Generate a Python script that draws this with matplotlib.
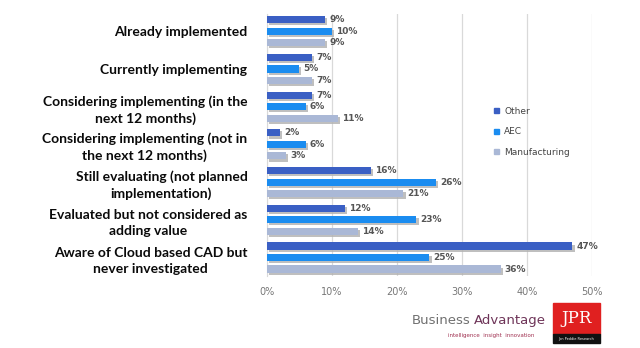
import matplotlib
matplotlib.use("Agg")
import matplotlib.pyplot as plt
import matplotlib.patheffects as pe
import numpy as np

categories = [
    "Already implemented",
    "Currently implementing",
    "Considering implementing (in the\nnext 12 months)",
    "Considering implementing (not in\nthe next 12 months)",
    "Still evaluating (not planned\nimplementation)",
    "Evaluated but not considered as\nadding value",
    "Aware of Cloud based CAD but\nnever investigated",
]
series_names = ["Other", "AEC", "Manufacturing"]
other = [9, 7, 7, 2, 16, 12, 47]
aec = [10, 5, 6, 6, 26, 23, 25]
manufacturing = [9, 7, 11, 3, 21, 14, 36]
xticks = [0, 10, 20, 30, 40, 50]

colors = ["#3a5fc4", "#1a8cf0", "#aab8d6"]

fig = plt.figure(figsize=(6.4, 3.48), dpi=100)
ax = fig.add_axes([0.417, 0.208, 0.508, 0.752])

y = np.arange(len(categories))
offsets = [-0.305, 0.0, 0.305]
shadow = [pe.SimplePatchShadow(offset=(1.5, -1.5), shadow_rgbFace="#b0b0b0", alpha=0.8), pe.Normal()]
for vals, off, col, name in zip([other, aec, manufacturing], offsets, colors, series_names):
    bars = ax.barh(y + off, vals, height=0.19, color=col, label=name, zorder=3)
    for b in bars:
        b.set_path_effects(shadow)
    for yi, v in zip(y + off, vals):
        ax.text(v + 0.6, yi, f"{v}%", va="center", ha="left", fontsize=6.5,
                fontweight="bold", color="#555555", zorder=4)

ax.set_xlim(0, 50)
ax.set_ylim(6.48, -0.46)
ax.set_xticks(xticks)
ax.set_xticklabels([f"{t}%" for t in xticks], fontsize=7, color="#777777")
ax.set_yticks(y)
ax.set_yticklabels(categories, fontsize=10, fontweight="bold", color="#0a0a0a",
                   linespacing=1.4, family="Lato")
for t in ax.get_yticklabels():
    t.set_multialignment("center")
ax.tick_params(axis="y", length=0, pad=14)
ax.tick_params(axis="x", length=0, pad=8)
ax.grid(axis="x", color="#d9d9d9", linewidth=0.9, zorder=0)
for s in ["top", "right", "bottom"]:
    ax.spines[s].set_visible(False)
ax.spines["left"].set_color("#d9d9d9")

handles = [plt.Rectangle((0, 0), 1, 1, color=c) for c in colors]
leg = ax.legend(handles, series_names, loc="upper left", bbox_to_anchor=(0.675, 0.675),
                frameon=False, fontsize=6.5, handlelength=0.5, handleheight=0.5,
                labelspacing=1.25, handletextpad=0.6, labelcolor="#444444")

# logo
fig.text(0.643, 0.078, "Business", fontsize=9.5, color="#707070",
         ha="left", va="center")
fig.text(0.741, 0.078, "Advantage", fontsize=9.5, color="#6e3458",
         ha="left", va="center")
fig.text(0.70, 0.035, "intelligence  insight  innovation", fontsize=4,
         color="#a03050", ha="left", va="center")
fig.add_artist(plt.Rectangle((0.864, 0.04), 0.073, 0.09, transform=fig.transFigure,
                             color="#e02020"))
fig.add_artist(plt.Rectangle((0.864, 0.014), 0.073, 0.026, transform=fig.transFigure,
                             color="#111111"))
fig.text(0.9005, 0.085, "JPR", fontsize=12, color="white", family="DejaVu Serif",
         ha="center", va="center")
fig.text(0.9005, 0.027, "Jon Peddie Research", fontsize=2.5, color="white",
         ha="center", va="center")

fig.savefig("out.png", dpi=100)
